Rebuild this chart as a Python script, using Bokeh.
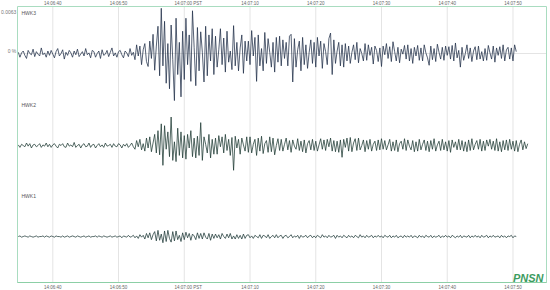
import numpy as np
from bokeh.plotting import figure
from bokeh.models import Range1d, ColumnDataSource, Label
from bokeh.core.properties import value
from bokeh.embed import file_html
from bokeh.resources import INLINE

# ---- data -------------------------------------------------------------
stations = ["HWK3", "HWK2", "HWK1"]
offsets = [0.0, -148.6, -295.6]          # trace baselines, units of 0.0001 %
label_above = 65.5                        # station label height above baseline
trace_colors = ["#22304a", "#1f3b35", "#1f3a38"]
t_start = -5.25                           # seconds after 14:06:40
sample_dt = 0.25
tick_seconds = [0, 10, 20, 30, 40, 50, 60, 70]
tick_labels = ["14:06:40", "14:06:50", "14:07:00 PST", "14:07:10",
               "14:07:20", "14:07:30", "14:07:40", "14:07:50"]
y_ticks = [0, 63]
y_tick_labels = ["0 %", "0.0063"]

hwk3 = [
    2, -6, 1, 4, -3, -8, 5, 0, -2, 7, -5, 3, -1, -4, 9, -2, 1, -6, 4, -3,
    5, -1, -7, 3, 8, -4, 0, 6, -9, 2, -3, 5, 1, -6, 4, -2, 7, -5, -1, 3,
    -4, 8, -2, 1, -7, 5, 3, -6, 0, 4, -8, 6, -3, -1, 5, -5, 2, 9, -4, 1,
    -6, 3, 5, -2, -7, 4, 1, -5, 8, -3, 2, -10, 14, -4, 12, -18, 6, 16, -13, -21,
    20, -8, 31, -27, 12, 44, -36, 73, -20, 52, -48, 16, -57, 46, -10, -76, 57, -34, 18, -70,
    36, -42, 57, -18, 30, -45, 69, 10, -52, 42, -28, 35, 2, -46, 44, -36, 30, -12, 40, -34,
    28, -22, 6, 40, -18, 25, -30, 36, -14, 4, -26, 45, -20, 18, -28, 9, 30, -32, 20, -12,
    20, -18, 37, -4, 26, -45, 30, -20, 8, -28, 34, -16, 24, 2, -22, 18, -30, 26, -14, 28,
    -20, 22, -8, 18, -20, 28, 31, -46, 24, -22, 6, 20, -28, 26, -18, 14, -24, 2, 22, -16,
    18, -22, 26, -4, 20, -24, 16, 3, -18, 24, 33, -34, 22, -16, 4, 18, -20, 14, -22, 16,
    -12, 12, -16, 2, 14, -10, 18, -15, 8, 0, -12, 16, -11, 14, -3, 10, -17, 12, 5, -13,
    9, -21, 12, -2, 16, -8, 11, -13, 19, 3, -12, 10, -15, 7, -1, 13, -9, 14, -12, 8,
    -16, 10, -4, 13, -11, 9, -12, 14, 1, -7, -19, 12, -10, 8, -13, 15, 2, -9, 10, -11,
    12, -3, 11, -9, 13, -12, 17, -7, 5, -22, 10, -11, 0, 14, -8, 9, -13, 4, 11, -10,
    12, -9, 3, -12, 8, -11, 13, 1, -9, 12, -14, 9, -3, 11, -8, 14, -12, 6, 10, -9,
    9, -12, 14, 3,
]

hwk2 = [
    1, -3, 2, 0, -2, 4, -1, 3, -4, 1, 2, -2, 0, 3, -3, 1, -1, 4, -2, 2,
    -3, 1, 3, -1, -4, 2, 0, 3, -2, -3, 4, -1, 1, -2, 5, -3, 0, 2, -4, 1,
    3, -2, -1, 4, -3, 1, 2, -4, 0, 3, -2, 1, -3, 4, -1, 0, 2, -3, 3, -1,
    -2, 3, 1, -4, 2, -1, 3, -3, 0, 4, -2, -6, 8, -2, 10, -7, 3, -9, 12, -4,
    14, -10, 4, 18, -12, 24, -15, 35, -32, 32, -6, 22, -18, 46, -24, 6, -26, 28, -16, 22,
    -20, 16, -22, 18, -4, 24, -18, 12, -20, 15, -16, 37, -24, 14, 2, -12, 18, -20, 10, -14,
    12, -14, 16, -2, 14, -12, 18, -8, 10, -16, 13, -40, 15, -4, 10, -14, 12, 1, -9, 14,
    -11, 14, -12, 2, 10, -16, 12, -9, 15, -13, 3, 8, -11, 14, -10, 12, -15, 0, 11, -8,
    10, -9, 2, 12, -7, 8, -11, 9, -1, -6, 11, -8, 7, -10, 9, -12, 3, 8, -7, 10,
    -8, 7, -9, 1, 11, -6, 9, -8, 10, -2, 12, -9, 8, -10, 7, -11, 9, -19, 10, -3,
    12, -9, 13, -10, 4, 11, -8, 12, -7, 0, 9, -10, 8, -6, 10, -9, 2, 7, -8, 9,
    -7, 11, -6, 8, -7, 1, 10, -9, 6, -8, 9, -10, 3, 7, -6, 11, -8, 9, -1, -7,
    8, -10, 6, -9, 10, -7, 2, 9, -8, 7, -10, 8, -6, 11, -9, 1, 7, -8, 10, -7,
    6, -9, 8, -11, 9, -3, 6, -7, 10, -7, 8, -9, 6, -10, 9, -8, 11, -7, 2, 8,
    -6, 10, -9, 7, -8, 9, -1, 10, -6, 7, -8, 11, -9, 6, -10, 8, -7, 9, -8, 10,
    -6, 7, -9, 8, -10, 2, 9, -7, 6, -5, 3,
]

hwk1 = [
    0, 1, -1, 0, 1, 0, -1, 1, 0, -1, 0, 1, -1, 0, 0, 1, -1, 1, 0, -1,
    1, 0, -1, 1, 0, 0, -1, 1, -1, 0, 1, -1, 0, 1, 0, -1, 1, 0, -1, 0,
    1, -1, 0, 1, -1, 0, 0, 1, -1, 1, 0, -1, 1, 0, -1, 0, 1, -1, 0, 1,
    -1, 0, 1, -2, 1, 0, -1, 2, -1, 0, 2, -2, 1, -3, 3, -1, 2, -4, 5, -2,
    6, -5, 3, 8, -7, 10, -6, 4, -10, 9, -8, 10, -3, -9, 8, -7, 9, -5, 2, -8,
    6, -5, 7, -2, 5, -6, 4, 1, -5, 6, -3, 5, -4, 6, -1, -4, 5, -6, 4, -3,
    4, -2, 3, -4, 5, 0, -3, 4, -2, 5, -4, 1, -4, 3, -3, 2, -4, 4, -3, 2,
    3, -2, 1, -3, 2, 0, -2, 3, -3, 2, 1, -2, 3, -3, 0, 2, -2, 3, -2, 1,
    2, -3, 1, 2, -2, 0, 3, -2, 1, -1, 2, -3, 2, -1, 0, 2, -2, 1, 2, -2,
    1, -2, 2, 0, -2, 3, -1, 1, -2, 2, -1, 0, 2, -3, 2, -1, 1, -2, 2, 0,
    -2, 2, -1, 1, -2, 2, 0, -2, 3, -1, 1, -2, 2, -1, 0, 2, -2, 1, -1, 2,
    -1, 1, -2, 2, 0, -1, 2, -2, 1, -1, 2, -2, 0, 1, -2, 2, -1, 1, -1, 2,
    -2, 1, 0, -2, 2, -1, 1, -2, 2, 0, -1, 2, -2, 1, -1, 0, 2, -2, 1, -1,
    2, -1, 1, -2, 2, 0, -2, 1, -1, 2, -2, 1, 0, -1, 2, -2, 1, -1, 2, -1,
    1, -2, 2, -1, 0, 2, -2, 1, -1, 2, -1, 0, 1, -2, 2, -1, 1, -2, 1, 0,
    2, -2, 1, 0,
]

traces = [hwk3, hwk2, hwk1]

# ---- geometry (plot box inside a 550x290 canvas) -----------------------
FONT = "Liberation Sans"
border_green = "#a9dcc0"
W, H = 550, 290
BOX_L, BOX_R, BOX_T, BOX_B = 17, 546, 6, 282          # pixel edges of box
X0, X1 = -5.37, 75.1                                    # seconds at box edges
Y0, Y1 = -369.8, 75.9                                   # amplitude at box edges
sx = (X1 - X0) / (BOX_R - BOX_L)
sy = (Y1 - Y0) / (BOX_B - BOX_T)
XA, XB = X0 - BOX_L * sx, X1 + (W - BOX_R) * sx
YA, YB = Y0 - (H - BOX_B) * sy, Y1 + BOX_T * sy

p = figure(width=W, height=H, output_backend="svg", toolbar_location=None,
           title=None, x_range=Range1d(XA, XB), y_range=Range1d(YA, YB),
           x_axis_location=None, y_axis_location=None,
           min_border_left=0, min_border_right=0, min_border_top=0,
           min_border_bottom=0)
p.grid.visible = False
p.outline_line_color = None
p.background_fill_color = "white"
p.border_fill_color = "white"

# grid lines
p.segment(x0=tick_seconds, x1=tick_seconds, y0=[Y0] * len(tick_seconds),
          y1=[Y1] * len(tick_seconds), line_color="#e4e4e4", line_width=1)
p.segment(x0=[X0], x1=[X1], y0=[y_ticks[0]], y1=[y_ticks[0]],
          line_color="#e4e4e4", line_width=1)

# traces
for name, base, color, vals in zip(stations, offsets, trace_colors, traces):
    v = np.asarray(vals, dtype=float)
    t = t_start + sample_dt * np.arange(len(v))
    src = ColumnDataSource(dict(t=t, y=base + v))
    p.line("t", "y", source=src, line_color=color, line_width=0.9, line_alpha=0.85)

# box
p.quad(left=[X0], right=[X1], bottom=[Y0], top=[Y1], fill_color=None,
       line_color=border_green, line_width=1)
p.segment(x0=[X0], x1=[X1], y0=[Y0], y1=[Y0], line_color="#8ccfa6", line_width=1)

# station labels
p.text(x=[-4.76] * len(stations), y=[b + label_above for b in offsets],
       text=stations, text_font=value(FONT), text_font_size="5px",
       text_color="#555555", text_baseline="middle", text_align="left")

# time labels above and below the box
tx = [ts + (4 * sx if lab.endswith("PST") else 0)
      for ts, lab in zip(tick_seconds, tick_labels)]
for yy in (Y1 + 2.7 * sy, Y0 - 5.0 * sy):
    p.text(x=tx, y=[yy] * len(tx), text=tick_labels, text_font=value(FONT),
           text_font_size="4.5px", text_color="#666666",
           text_align="center", text_baseline="middle")

# amplitude labels left of the box
p.text(x=[X0 - 1.2 * sx] * len(y_ticks), y=[v + 2.3 * sy for v in y_ticks],
       text=y_tick_labels, text_font=value(FONT), text_font_size="5px",
       text_color="#777777", text_align="right", text_baseline="middle")

p.add_layout(Label(x=74.65, y=-362, text="PNSN", text_font=FONT,
                   text_font_size="11px", text_font_style="bold italic",
                   text_color="#3d9c5f", text_align="right",
                   text_baseline="alphabetic"))

open("out.html", "w").write(file_html(p, INLINE))
